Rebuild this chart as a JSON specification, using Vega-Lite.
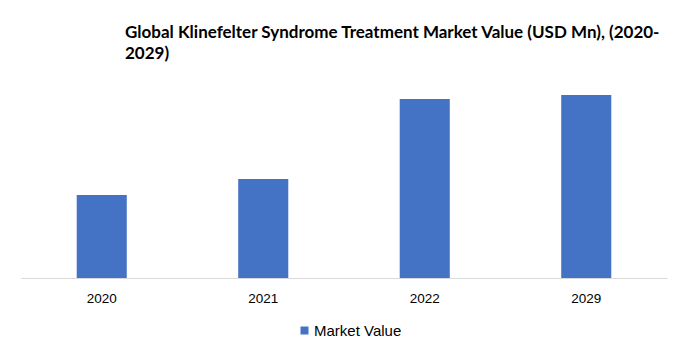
{
  "$schema": "https://vega.github.io/schema/vega-lite/v6.json",
  "width": 646,
  "height": 200,
  "autosize": {"type": "none"},
  "padding": {"left": 21, "top": 78, "right": 21, "bottom": 83},
  "background": "white",
  "title": {
    "text": ["Global Klinefelter Syndrome Treatment Market Value (USD Mn), (2020-", "2029)"],
    "anchor": "start",
    "dx": 104,
    "offset": 15,
    "font": "Lato",
    "fontSize": 17,
    "fontWeight": "bold",
    "color": "#000000",
    "lineHeight": 21
  },
  "data": {
    "values": [
      {"year": "2020", "value": 83, "series": "Market Value"},
      {"year": "2021", "value": 99, "series": "Market Value"},
      {"year": "2022", "value": 179, "series": "Market Value"},
      {"year": "2029", "value": 183, "series": "Market Value"}
    ]
  },
  "mark": {"type": "bar"},
  "encoding": {
    "x": {
      "field": "year",
      "type": "nominal",
      "scale": {"paddingInner": 0.69, "paddingOuter": 0.345},
      "axis": {
        "title": null,
        "labelAngle": 0,
        "ticks": false,
        "domainColor": "#d9d9d9",
        "domainWidth": 1,
        "labelFont": "Liberation Sans",
        "labelFontSize": 13.5,
        "labelColor": "#000000",
        "labelPadding": 13
      }
    },
    "y": {
      "field": "value",
      "type": "quantitative",
      "scale": {"domain": [0, 200]},
      "axis": null
    },
    "color": {
      "field": "series",
      "type": "nominal",
      "scale": {"range": ["#4472C4"]},
      "legend": {
        "title": null,
        "orient": "none",
        "legendX": 276,
        "legendY": 245,
        "symbolType": "square",
        "symbolSize": 64,
        "labelFont": "Liberation Sans",
        "labelFontSize": 15,
        "labelColor": "#000000",
        "labelOffset": 2
      }
    }
  },
  "config": {
    "view": {"stroke": null}
  }
}
